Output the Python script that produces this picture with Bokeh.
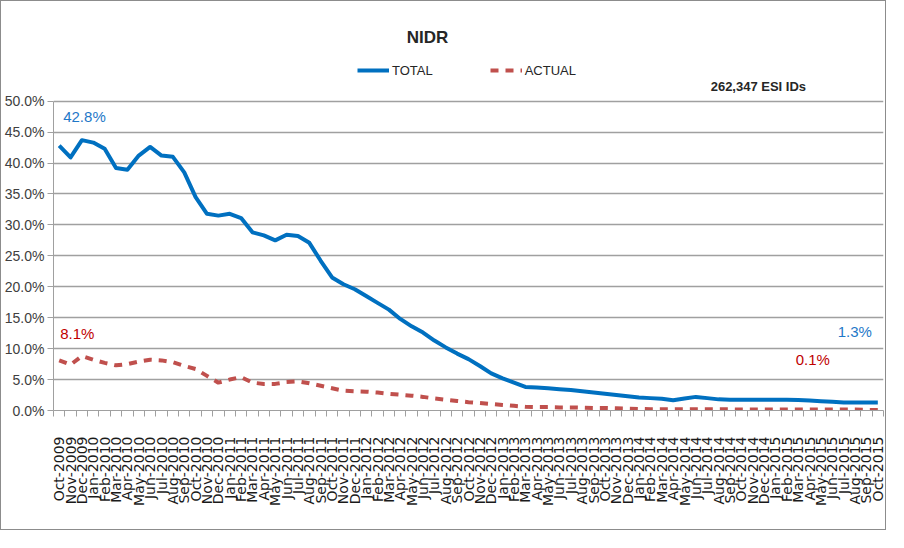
import math
from bokeh.plotting import figure
from bokeh.models import (Range1d, LinearAxis, FixedTicker, NumeralTickFormatter,
                          Label, Legend, LegendItem, ColumnDataSource)
from bokeh.embed import file_html
from bokeh.resources import INLINE

# ---------------- data ----------------
month_names = ["Jan", "Feb", "Mar", "Apr", "May", "Jun",
               "Jul", "Aug", "Sep", "Oct", "Nov", "Dec"]
months = [f"{month_names[(9 + k) % 12]}-{2009 + (9 + k) // 12}" for k in range(73)]

total = [42.8, 40.9, 43.7, 43.3, 42.3, 39.2, 38.9, 41.2, 42.6, 41.2,
         41.0, 38.5, 34.5, 31.8, 31.5, 31.8, 31.1, 28.8, 28.3, 27.5,
         28.4, 28.2, 27.1, 24.2, 21.5, 20.4, 19.6, 18.5, 17.4, 16.3,
         14.8, 13.6, 12.6, 11.3, 10.2, 9.2, 8.3, 7.2, 6.0, 5.2,
         4.5, 3.8, 3.7, 3.6, 3.45, 3.3, 3.1, 2.9, 2.7, 2.5,
         2.3, 2.1, 2.0, 1.9, 1.65, 1.95, 2.2, 2.0, 1.8, 1.75,
         1.75, 1.75, 1.75, 1.75, 1.75, 1.7, 1.6, 1.5, 1.4, 1.3,
         1.3, 1.3, 1.3]

actual = [8.1, 7.4, 8.8, 8.2, 7.7, 7.3, 7.5, 7.9, 8.2, 8.1,
          7.8, 7.2, 6.7, 5.6, 4.5, 5.0, 5.4, 4.5, 4.3, 4.3,
          4.6, 4.7, 4.4, 4.0, 3.6, 3.2, 3.1, 3.05, 2.9, 2.7,
          2.55, 2.4, 2.2, 1.95, 1.75, 1.55, 1.35, 1.2, 1.05, 0.9,
          0.75, 0.6, 0.55, 0.55, 0.5, 0.5, 0.45, 0.4, 0.4, 0.35,
          0.3, 0.25, 0.2, 0.2, 0.2, 0.2, 0.2, 0.2, 0.2, 0.2,
          0.15, 0.15, 0.15, 0.15, 0.15, 0.15, 0.15, 0.15, 0.15, 0.15,
          0.15, 0.1, 0.1]

y_ticks = [0.0, 5.0, 10.0, 15.0, 20.0, 25.0, 30.0, 35.0, 40.0, 45.0, 50.0]

title_text = "NIDR"
note_text = "262,347 ESI IDs"

# ---------------- styling ----------------
NARROW = "'Liberation Sans Narrow', 'Liberation Sans', sans-serif"
BLUE = "#0070C0"
RED = "#C0504D"
GRID = "#A0A0A0"

idx = list(range(len(months)))
src = ColumnDataSource(dict(
    x=idx,
    total=[v / 100 for v in total],
    actual=[v / 100 for v in actual],
))

# the frame extends above 50% so the title / legend area lies inside it
p = figure(width=886, height=530, output_backend="svg", toolbar_location=None,
           x_range=Range1d(-0.5, len(months) - 0.5),
           y_range=Range1d(y_ticks[0] / 100, 0.632),
           x_axis_type=None,
           min_border_left=47, min_border_right=4,
           min_border_top=18, min_border_bottom=121)
p.styles = {"border": "1px solid #8c8c8c"}
p.outline_line_color = None
p.background_fill_color = "white"
p.border_fill_color = "white"

# y axis
yax = p.yaxis[0]
yax.ticker = FixedTicker(ticks=[t / 100 for t in y_ticks], minor_ticks=[])
yax.bounds = (y_ticks[0] / 100, y_ticks[-1] / 100)
yax.formatter = NumeralTickFormatter(format="0.0%")
yax.axis_line_color = GRID
yax.major_tick_line_color = GRID
yax.major_tick_out = 6
yax.major_tick_in = 0
yax.minor_tick_line_color = None
yax.major_label_text_font = NARROW
yax.major_label_text_font_size = "14px"
yax.major_label_text_color = "#404040"
yax.major_label_standoff = 3

p.ygrid.ticker = FixedTicker(ticks=[t / 100 for t in y_ticks])
p.ygrid.grid_line_color = GRID
p.ygrid.grid_line_width = 1.5
p.xgrid.grid_line_color = None

# x axis (category labels at month centres, ticks between months)
xax = LinearAxis(
    ticker=FixedTicker(ticks=idx, minor_ticks=[i - 0.5 for i in range(len(months) + 1)]),
    major_label_overrides={i: m for i, m in enumerate(months)},
    major_label_orientation=math.pi / 2,
    major_tick_line_color=None,
    minor_tick_line_color=GRID,
    minor_tick_out=6, minor_tick_in=0,
    axis_line_color=GRID,
    major_label_text_font="DejaVu Sans",
    major_label_text_font_size="14px",
    major_label_text_color="#1a1a1a",
    major_label_standoff=20,
)
p.add_layout(xax, "below")

# series
r_total = p.line("x", "total", source=src, line_color=BLUE, line_width=4,
                 line_join="round")
r_actual = p.line("x", "actual", source=src, line_color=RED, line_width=4,
                  line_dash="8 7")

legend = Legend(items=[LegendItem(label="TOTAL", renderers=[r_total]),
                       LegendItem(label="ACTUAL", renderers=[r_actual])],
                orientation="horizontal", location=(304, 332),
                spacing=57, glyph_width=32, glyph_height=16, label_height=16,
                label_standoff=3, padding=0, margin=0,
                border_line_color=None, background_fill_alpha=0,
                label_text_font=NARROW, label_text_font_size="13px",
                label_text_color="#262626")
p.add_layout(legend)

# title and note
p.add_layout(Label(x=32.4, y=0.603, text=title_text, text_align="center",
                   text_baseline="middle", text_font=NARROW, text_font_size="17px",
                   text_font_style="bold", text_color="#262626"))
p.add_layout(Label(x=57.3, y=0.523, text=note_text, text_align="left",
                   text_baseline="middle", text_font=NARROW, text_font_size="13px",
                   text_font_style="bold", text_color="#262626"))

# data labels
last = len(months) - 1
p.add_layout(Label(x=0, y=total[0] / 100, y_offset=29, x_offset=4,
                   text=f"{total[0]:.1f}%", text_baseline="middle",
                   text_font=NARROW, text_font_size="15px", text_color="#1F78C8"))
p.add_layout(Label(x=0, y=actual[0] / 100, y_offset=27, x_offset=1,
                   text=f"{actual[0]:.1f}%", text_baseline="middle",
                   text_font=NARROW, text_font_size="15px", text_color="#C00000"))
p.add_layout(Label(x=last, y=total[last] / 100, y_offset=71, x_offset=-6,
                   text=f"{total[last]:.1f}%", text_baseline="middle", text_align="right",
                   text_font=NARROW, text_font_size="15px", text_color="#1F78C8"))
p.add_layout(Label(x=last, y=actual[last] / 100, y_offset=50, x_offset=-48,
                   text=f"{actual[last]:.1f}%", text_baseline="middle", text_align="right",
                   text_font=NARROW, text_font_size="15px", text_color="#C00000"))

open("out.html", "w").write(file_html(p, INLINE))
